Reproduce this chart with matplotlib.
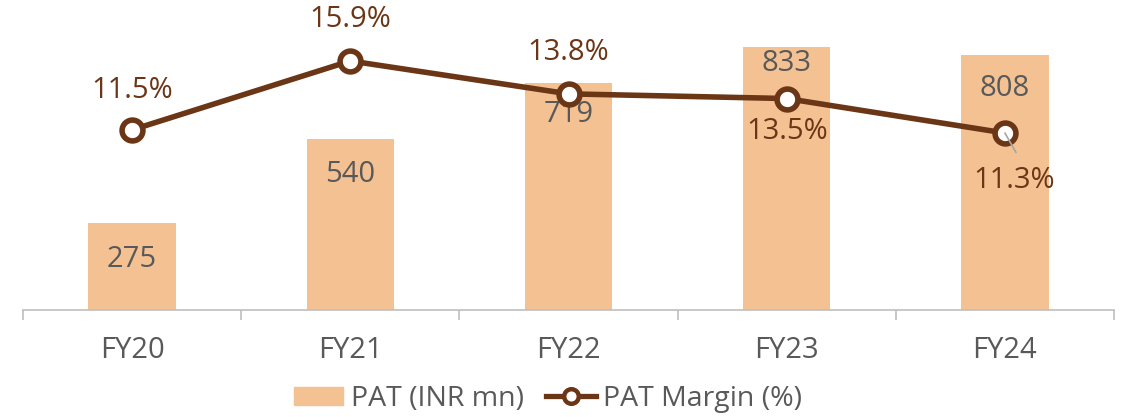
import matplotlib.pyplot as plt
from matplotlib.lines import Line2D
from matplotlib.patches import Patch

plt.rcParams['font.family'] = ['Open Sans', 'DejaVu Sans']

years = ["FY20", "FY21", "FY22", "FY23", "FY24"]
pat = [275, 540, 719, 833, 808]
margin = [11.5, 15.9, 13.8, 13.5, 11.3]

# label offsets in points (negative = below)
bar_lab_off = [-26, -25, -23, -12, -24]
line_lab_off = [(0, 28), (0, 30), (0, 30), (0, -24), (7, -34)]

bar_col = "#F4C193"
line_col = "#6B3616"
txt_col = "#595959"

fig = plt.figure(figsize=(11.35, 4.17), dpi=100)
ax = fig.add_axes([23 / 1135, 107 / 417, 1091 / 1135, 300 / 417])
ax2 = ax.twinx()

x = range(len(years))
ax.bar(x, pat, width=0.4, color=bar_col, zorder=1)
ax.set_ylim(0, 950)
ax2.set_ylim(0, 950 / 49.6)
ax.set_xlim(-0.5, 4.5)

for i, v in enumerate(pat):
    ax.annotate(str(v), (i, v), xytext=(0, bar_lab_off[i]), textcoords="offset points",
                ha="center", va="center", fontsize=21, color=txt_col)

ax2.plot(x, margin, color=line_col, lw=4, marker="o", ms=15, mfc="white",
         mec=line_col, mew=4, zorder=3)
for i, v in enumerate(margin):
    ax2.annotate(f"{v}%", (i, v), xytext=line_lab_off[i], textcoords="offset points",
                 ha="center", va="center", fontsize=21, color=line_col)
# leader line for last label
ax2.annotate("", (4, margin[4]), xytext=(8, -14), textcoords="offset points",
             arrowprops=dict(arrowstyle="-", color="#a6a6a6", lw=1.2, shrinkA=0, shrinkB=0))

for a in (ax, ax2):
    for s in ("top", "right", "left"):
        a.spines[s].set_visible(False)
    a.set_yticks([])
ax2.spines["bottom"].set_visible(False)
ax.spines["bottom"].set_color("#bfbfbf")
ax.spines["bottom"].set_linewidth(1.2)

ax.set_xticks(list(x))
ax.set_xticklabels(years, fontsize=21, color=txt_col)
ax.tick_params(axis="x", which="major", length=0, pad=19)
ax.set_xticks([i - 0.5 for i in range(len(years) + 1)], minor=True)
ax.tick_params(axis="x", which="minor", length=7.5, color="#bfbfbf", width=1.2)

handles = [Patch(color=bar_col),
           Line2D([], [], color=line_col, lw=3.8, marker="o", ms=10.5, mfc="white", mec=line_col, mew=3.2)]
fig.legend(handles, ["PAT (INR mn)", "PAT Margin (%)"], loc="center", bbox_to_anchor=(548 / 1135, 18 / 417),
           ncol=2, frameon=False, fontsize=20.5, labelcolor=txt_col, handlelength=1.75,
           handleheight=0.6, handletextpad=0.25, columnspacing=0.8, borderpad=0)

fig.savefig("out.png", dpi=100)
